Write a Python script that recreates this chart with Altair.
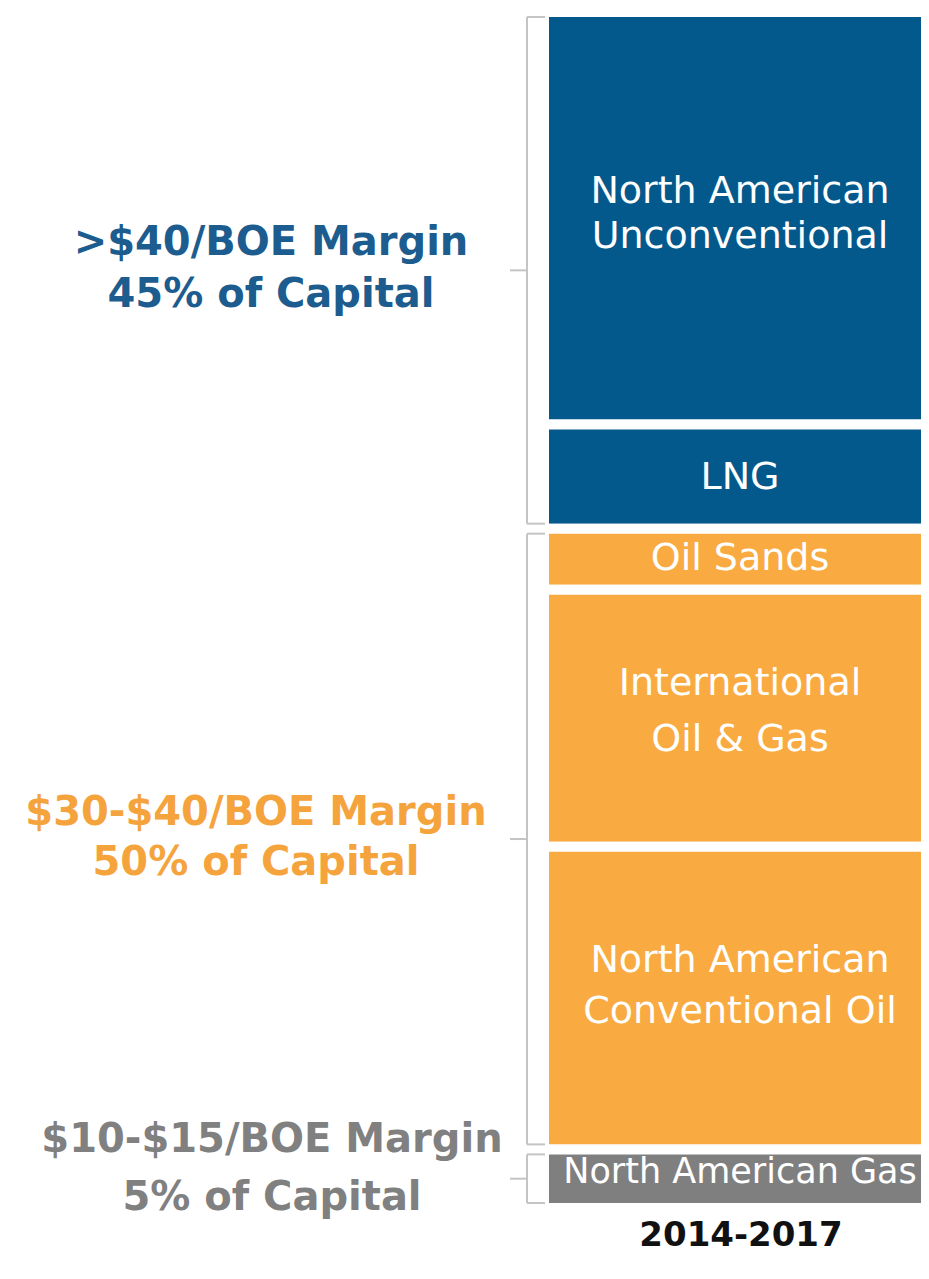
import altair as alt
import pandas as pd

# ---------------- data ----------------
segments = [
    "North American Unconventional",
    "LNG",
    "Oil Sands",
    "International Oil & Gas",
    "North American Conventional Oil",
    "North American Gas",
]
segment_labels = [
    "North American\nUnconventional",
    "LNG",
    "Oil Sands",
    "International\nOil & Gas",
    "North American\nConventional Oil",
    "North American Gas",
]
shares = [34.5, 8.7, 5.1, 21.5, 25.3, 4.9]  # % of capital
segment_tiers = ["high", "high", "mid", "mid", "mid", "low"]

tier_names = ["high", "mid", "low"]
tier_labels = [
    ">$40/BOE Margin\n45% of Capital",
    "$30-$40/BOE Margin\n50% of Capital",
    "$10-$15/BOE Margin\n5% of Capital",
]
period = "2014-2017"

# ---------------- style / layout ----------------
BAR_COLORS = ["#04598C", "#F9AB42", "#7F7F7F"]
TEXT_COLORS = ["#1D5C8E", "#F5A43D", "#808080"]
BRACKET_COLOR = "#C4C4C4"
FONT = "DejaVu Sans"
W, H = 913, 1250
Y_RANGE = [4, 1200]
BAR_X0, BAR_X1 = 536, 940
SEG_TEXT_X = 732
SEG_FONT_SIZE = [38, 38, 38, 38, 38, 35]
SEG_LINE_HEIGHT = [45, 40, 40, 56, 51, 40]
SEG_DY = [-26, 1, 0, -34, -37, -7]
TIER_TEXT_X = [263, 248, 264]
TIER_LINE_HEIGHT = [52, 50, 58]
TIER_TEXT_DY = [-27, -26, -39]
BR_X, BR_HOOK, BR_TIP = 519, 537, 502

# ---------------- tables ----------------
seg = pd.DataFrame({
    "segment": segments,
    "label": segment_labels,
    "share": shares,
    "tier": segment_tiers,
})
seg["y0"] = seg["share"].cumsum() - seg["share"]
seg["y1"] = seg["share"].cumsum()
seg["mid"] = (seg["y0"] + seg["y1"]) / 2

grp = seg.groupby("tier", sort=False).agg(g0=("y0", "min"), g1=("y1", "max")).reset_index()
grp["gmid"] = (grp["g0"] + grp["g1"]) / 2
grp["label"] = [tier_labels[tier_names.index(t)] for t in grp["tier"]]

yscale = alt.Scale(domain=[0, 100], range=Y_RANGE)

bars = alt.Chart(seg).mark_bar(stroke="white", strokeWidth=10, clip=True).encode(
    x=alt.value(BAR_X0),
    x2=alt.value(BAR_X1),
    y=alt.Y("y0:Q", scale=yscale, axis=None),
    y2="y1:Q",
    color=alt.Color("tier:N", scale=alt.Scale(domain=tier_names, range=BAR_COLORS), legend=None),
)

layers = [bars]

for name, fs, lh, ddy in zip(segments, SEG_FONT_SIZE, SEG_LINE_HEIGHT, SEG_DY):
    layers.append(
        alt.Chart(seg).transform_filter(alt.datum.segment == name).mark_text(
            font=FONT, fontSize=fs, color="white", align="center", baseline="middle",
            lineBreak="\n", lineHeight=lh, dy=ddy,
        ).encode(
            x=alt.value(SEG_TEXT_X),
            y=alt.Y("mid:Q", scale=yscale, axis=None),
            text="label:N",
        )
    )

# brackets
layers.append(alt.Chart(grp).mark_rule(color=BRACKET_COLOR, strokeWidth=2, yOffset=5, y2Offset=-5).encode(
    x=alt.value(BR_X), y=alt.Y("g0:Q", scale=yscale, axis=None), y2="g1:Q"))
layers.append(alt.Chart(grp).mark_rule(color=BRACKET_COLOR, strokeWidth=2, yOffset=5).encode(
    x=alt.value(BR_X), x2=alt.value(BR_HOOK), y=alt.Y("g0:Q", scale=yscale, axis=None)))
layers.append(alt.Chart(grp).mark_rule(color=BRACKET_COLOR, strokeWidth=2, yOffset=-5).encode(
    x=alt.value(BR_X), x2=alt.value(BR_HOOK), y=alt.Y("g1:Q", scale=yscale, axis=None)))
layers.append(alt.Chart(grp).mark_rule(color=BRACKET_COLOR, strokeWidth=2).encode(
    x=alt.value(BR_TIP), x2=alt.value(BR_X), y=alt.Y("gmid:Q", scale=yscale, axis=None)))

# tier labels
for t, tx, tlh, tdy, tc in zip(tier_names, TIER_TEXT_X, TIER_LINE_HEIGHT, TIER_TEXT_DY, TEXT_COLORS):
    layers.append(
        alt.Chart(grp).transform_filter(alt.datum.tier == t).mark_text(
            font=FONT, fontSize=40, fontWeight="bold", color=tc, align="center",
            baseline="middle", lineBreak="\n", lineHeight=tlh, dy=tdy,
        ).encode(
            x=alt.value(tx),
            y=alt.Y("gmid:Q", scale=yscale, axis=None),
            text="label:N",
        )
    )

# period label
layers.append(
    alt.Chart(pd.DataFrame({"period": [period]})).mark_text(
        font=FONT, fontSize=34, fontWeight="bold", color="#111111",
        align="center", baseline="middle",
    ).encode(x=alt.value(733), y=alt.value(1228), text="period:N")
)

chart = alt.layer(*layers).properties(
    width=W, height=H, padding=0,
    autosize=alt.AutoSizeParams(type="none"),
).configure_view(stroke=None)

chart.save("out.html", embed_options={"renderer": "svg", "actions": False})
